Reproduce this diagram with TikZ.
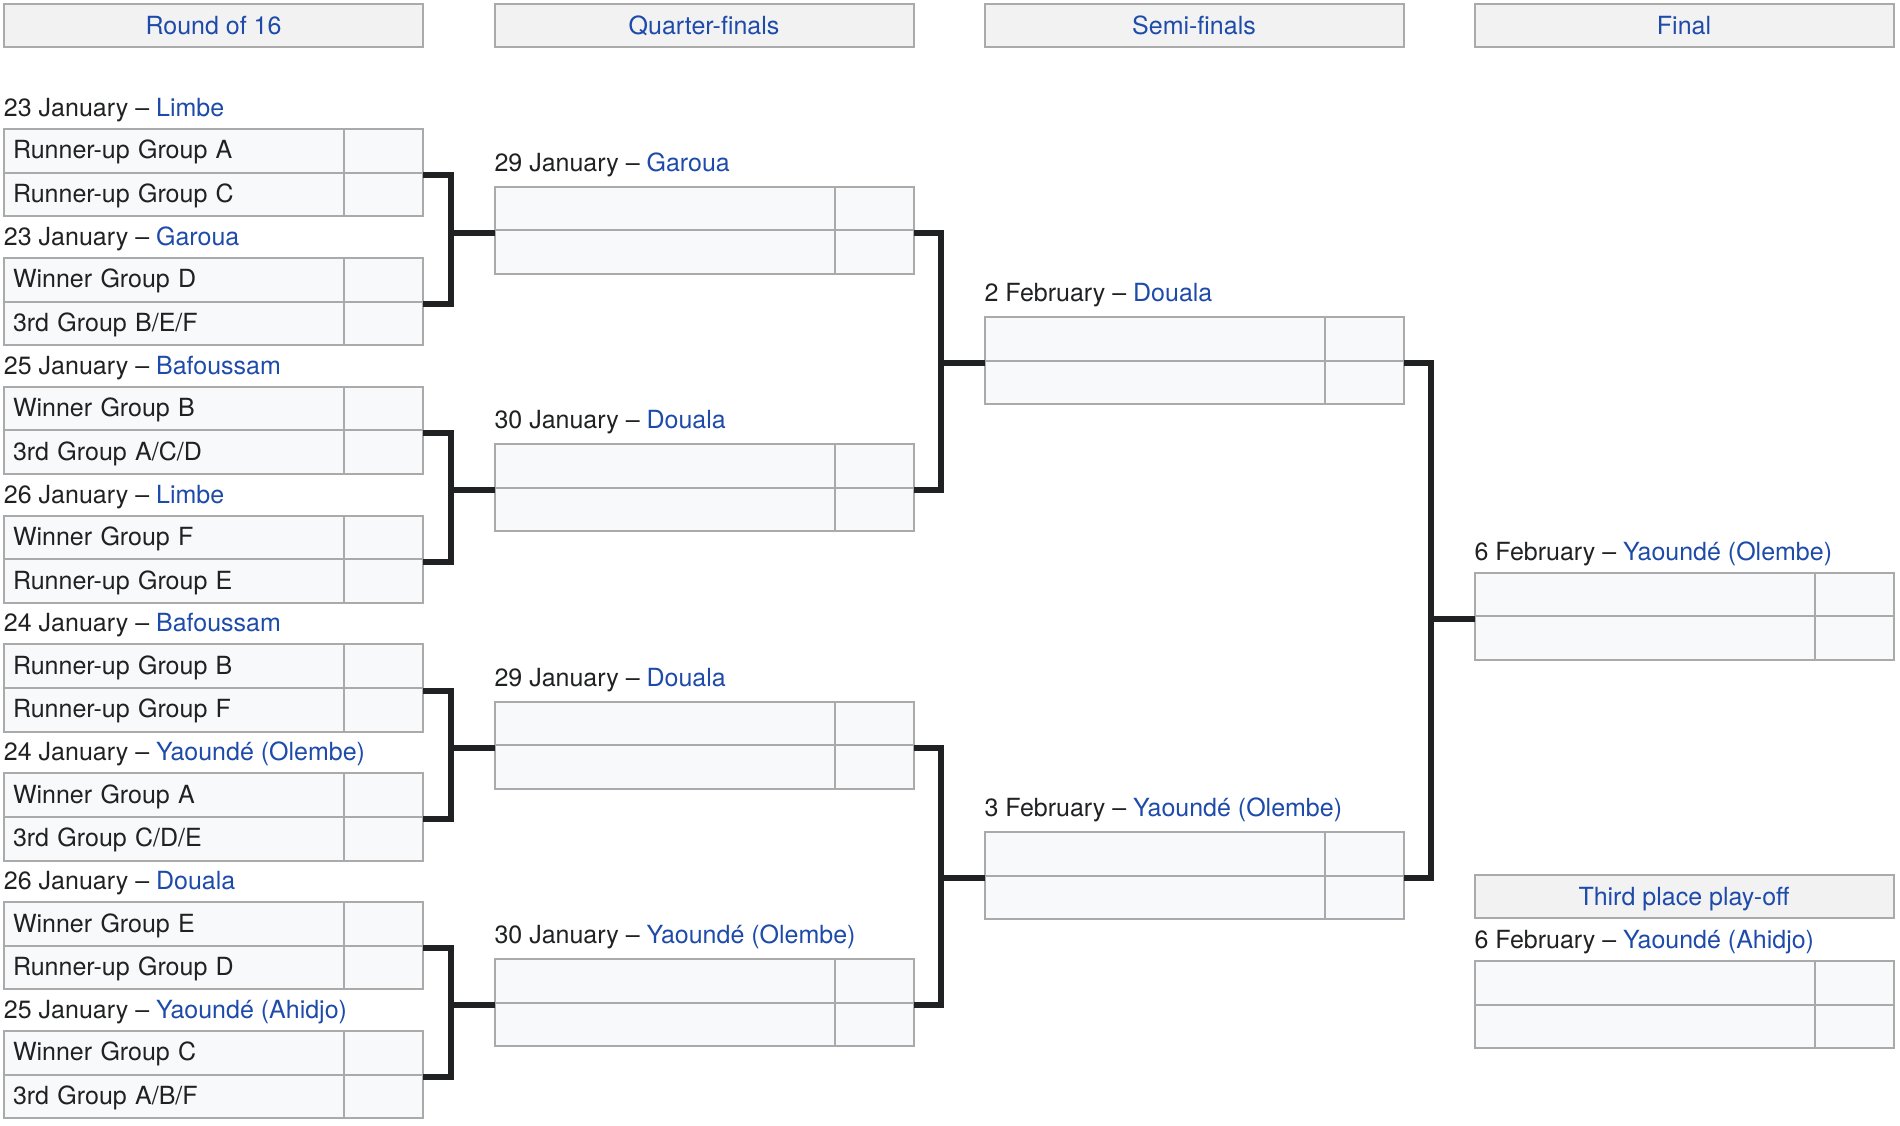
\documentclass[tikz,border=0pt]{standalone}
\usepackage{fontspec}
\setmainfont{TeX Gyre Heros}
\definecolor{linkblue}{RGB}{30,75,170}
\definecolor{txt}{HTML}{202122}
\definecolor{bord}{HTML}{AAAAAA}
\definecolor{cellbg}{HTML}{F8F9FA}
\definecolor{hdrbg}{HTML}{F2F2F2}
\newcommand\venue[1]{\textcolor{linkblue}{#1}}
\newcommand\bfont{\fontsize{25}{30}\selectfont}
\tikzset{
  cellbase/.style={draw=bord, line width=2pt, fill=cellbg, anchor=north west, inner sep=0pt, outer sep=0pt, minimum height=43.6pt, font=\bfont, text=txt},
  namecell/.style={cellbase, text width=322pt, inner xsep=9pt, align=left, text height=21pt, text depth=5pt},
  scorecell/.style={cellbase, minimum width=79pt},
  hdr/.style={draw=bord, line width=2pt, fill=hdrbg, anchor=north west, inner sep=0pt, outer sep=0pt, minimum width=419pt, minimum height=43pt, text height=18pt, text depth=0pt, font=\bfont, text=linkblue},
  datelbl/.style={anchor=base west, inner sep=0pt, outer sep=0pt, font=\bfont, text=txt},
  conn/.style={draw=txt, line width=6pt, line join=miter},
}
% #1 name, #2 x, #3 top, #4 gap to date baseline, #5 date, #6 venue, #7 team 1, #8 team 2
\newcommand\matchbox[8]{%
  \node[datelbl] (#1d) at (#2,#3-#4) {#5 – \venue{#6}};
  \node[namecell] (#1a) at (#2,#3) {#7};
  \node[scorecell] (#1as) at (#1a.north east) {};
  \node[namecell] (#1b) at (#1a.south west) {#8};
  \node[scorecell] (#1bs) at (#1b.north east) {};
}
\begin{document}
\begin{tikzpicture}[x=1pt,y=-1pt]
\useasboundingbox (0,0) rectangle (1900,1126);
% headers
\node[hdr] (h1) at (4,4.5) {Round of 16};
\node[hdr] (h2) at (494.5,4.5) {Quarter-finals};
\node[hdr] (h3) at (984.5,4.5) {Semi-finals};
\node[hdr] (h4) at (1474.5,4.5) {Final};
\node[hdr] (h5) at (1474.5,875) {Third place play-off};
% round of 16
\matchbox{r0}{4}{129}{12.5}{23 January}{Limbe}{Runner-up Group A}{Runner-up Group C}
\matchbox{r1}{4}{257.9}{12.5}{23 January}{Garoua}{Winner Group D}{3rd Group B/E/F}
\matchbox{r2}{4}{386.7}{12.5}{25 January}{Bafoussam}{Winner Group B}{3rd Group A/C/D}
\matchbox{r3}{4}{515.6}{12.5}{26 January}{Limbe}{Winner Group F}{Runner-up Group E}
\matchbox{r4}{4}{644.4}{12.5}{24 January}{Bafoussam}{Runner-up Group B}{Runner-up Group F}
\matchbox{r5}{4}{773.3}{12.5}{24 January}{Yaoundé (Olembe)}{Winner Group A}{3rd Group C/D/E}
\matchbox{r6}{4}{902.2}{12.5}{26 January}{Douala}{Winner Group E}{Runner-up Group D}
\matchbox{r7}{4}{1031}{12.5}{25 January}{Yaoundé (Ahidjo)}{Winner Group C}{3rd Group A/B/F}
% quarter-finals
\matchbox{q0}{494.5}{186.7}{15.5}{29 January}{Garoua}{}{}
\matchbox{q1}{494.5}{444.2}{15.5}{30 January}{Douala}{}{}
\matchbox{q2}{494.5}{701.7}{15.5}{29 January}{Douala}{}{}
\matchbox{q3}{494.5}{959.2}{15.5}{30 January}{Yaoundé (Olembe)}{}{}
% semi-finals
\matchbox{s0}{984.5}{317}{16}{2 February}{Douala}{}{}
\matchbox{s1}{984.5}{832}{16}{3 February}{Yaoundé (Olembe)}{}{}
% final
\matchbox{f0}{1474.5}{572.7}{12.7}{6 February}{Yaoundé (Olembe)}{}{}
% third place
\matchbox{t0}{1474.5}{961}{13}{6 February}{Yaoundé (Ahidjo)}{}{}
% connectors R16 -> QF
\foreach \a/\b/\q in {r0/r1/q0, r2/r3/q1, r4/r5/q2, r6/r7/q3}{
  \draw[conn] ([yshift=-2.5pt]\a as.south east) -- ++(28.3,0) |- ([yshift=-2.5pt]\q a.south west);
  \draw[conn] ([yshift=-2.5pt]\b as.south east) -- ++(28.3,0) |- ([yshift=-2.5pt]\q a.south west);
}
% QF -> SF
\foreach \a/\b/\s in {q0/q1/s0, q2/q3/s1}{
  \draw[conn] ([yshift=-2.5pt]\a as.south east) -- ++(27.5,0) |- ([yshift=-2.5pt]\s a.south west);
  \draw[conn] ([yshift=-2.5pt]\b as.south east) -- ++(27.5,0) |- ([yshift=-2.5pt]\s a.south west);
}
% SF -> Final
\draw[conn] ([yshift=-2.5pt]s0as.south east) -- ++(27.2,0) |- ([yshift=-2.5pt]f0a.south west);
\draw[conn] ([yshift=-2.5pt]s1as.south east) -- ++(27.2,0) |- ([yshift=-2.5pt]f0a.south west);
\end{tikzpicture}
\end{document}
